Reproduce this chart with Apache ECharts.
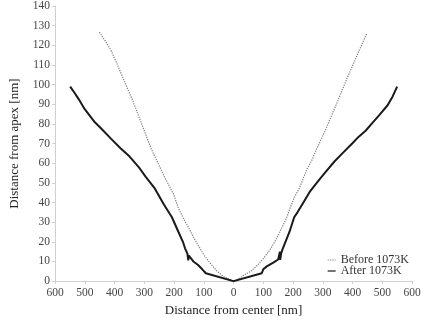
<!DOCTYPE html>
<html>
<head>
<meta charset="utf-8">
<script src="https://cdn.jsdelivr.net/npm/echarts@6/dist/echarts.min.js"></script>
<style>
  html, body { margin: 0; padding: 0; background: #fff; }
  #chart { width: 424px; height: 322px; }
</style>
</head>
<body>
<div id="chart"></div>
<script>
// x: signed distance from center (left side negative), y: distance from apex
const beforeX = [-451, -430, -412, -390, -369, -336, -298, -277, -260, -235, -217, -201, -185, -165, -150, -135, -120, -98, -75, -55, -30, 0,
  16, 35, 58, 80, 102, 125, 145, 162, 178, 190, 204, 222, 247, 265, 280, 296, 315, 334, 350, 366, 384, 400, 420, 448]
const beforeY = [126.7, 122, 117.5, 110, 102.5, 90.8, 75.8, 67.5, 62, 54, 48.7, 44, 37, 31, 27, 22.5, 18.5, 13, 8.5, 5, 2, 0,
  1, 3, 5, 8, 11.7, 16.5, 21.7, 27, 32, 37, 42.5, 47.5, 57, 62, 67.5, 72.5, 79, 85.8, 91.5, 97.5, 104, 109.5, 116.5, 126]

const afterX = [-549, -535, -520, -500, -466, -444, -412, -379, -350, -320, -295, -266, -234, -207, -185, -170, -163, -155, -152, -150, -135, -120, -105, -93, 0,
  95, 100, 112, 135, 150, 156, 157, 160, 166, 188, 204, 215, 235, 258, 285, 312, 340, 366, 399, 421, 444, 464, 490, 518, 535, 550]
const afterY = [99, 96, 92.5, 87.5, 80.8, 77.5, 72.5, 67.5, 63.5, 58.3, 53, 47.5, 39, 32.5, 25, 20, 16.7, 14, 10.5, 13, 10, 8.3, 6, 4, 0,
  4, 6, 7.5, 9.5, 11, 15, 10.8, 14, 16.7, 25, 32.5, 35, 40, 45.8, 51, 56, 61, 65, 70, 73.5, 76.5, 80, 84.5, 89.5, 94, 99]

const serif = 'Liberation Serif'
const chart = echarts.init(document.getElementById('chart'))

chart.setOption({
  animation: false,
  grid: { left: 42, right: 12, top: 5, bottom: 37 },
  legend: {
    orient: 'vertical',
    right: 10,
    top: 249,
    itemWidth: 8,
    itemHeight: 6,
    itemGap: -1,
    itemStyle: { opacity: 0 },
    lineStyle: { width: 1.2 },
    textStyle: { fontFamily: serif, fontSize: 12, color: '#333' },
    data: ['Before 1073K', 'After 1073K']
  },
  xAxis: {
    type: 'value',
    min: -600,
    max: 600,
    interval: 100,
    name: 'Distance from center [nm]',
    nameLocation: 'middle',
    nameGap: 20,
    nameTextStyle: { fontFamily: serif, fontSize: 13, color: '#222' },
    axisLine: { onZero: false, lineStyle: { color: '#d0d0d0' } },
    axisTick: { show: true, length: 3, lineStyle: { color: '#d0d0d0' } },
    axisLabel: {
      fontFamily: serif, fontSize: 11.5, color: '#444', margin: 6,
      formatter: v => String(Math.abs(v))
    },
    splitLine: { show: false }
  },
  yAxis: {
    type: 'value',
    min: 0,
    max: 140,
    interval: 10,
    name: 'Distance from apex [nm]',
    nameLocation: 'middle',
    nameGap: 34,
    nameTextStyle: { fontFamily: serif, fontSize: 13, color: '#222' },
    axisLine: { show: true, onZero: false, lineStyle: { color: '#d0d0d0' } },
    axisTick: { show: true, length: 3, lineStyle: { color: '#d0d0d0' } },
    axisLabel: { fontFamily: serif, fontSize: 11.5, color: '#444', margin: 5 },
    splitLine: { show: false }
  },
  series: [
    {
      name: 'Before 1073K',
      type: 'line',
      symbol: 'none',
      data: beforeX.map((x, i) => [x, beforeY[i]]),
      lineStyle: { color: '#7a7a7a', width: 1.2, type: 'dotted' },
      itemStyle: { color: '#7a7a7a' }
    },
    {
      name: 'After 1073K',
      type: 'line',
      symbol: 'none',
      data: afterX.map((x, i) => [x, afterY[i]]),
      lineStyle: { color: '#1a1a1a', width: 2 },
      itemStyle: { color: '#1a1a1a' }
    }
  ]
})
</script>
</body>
</html>
